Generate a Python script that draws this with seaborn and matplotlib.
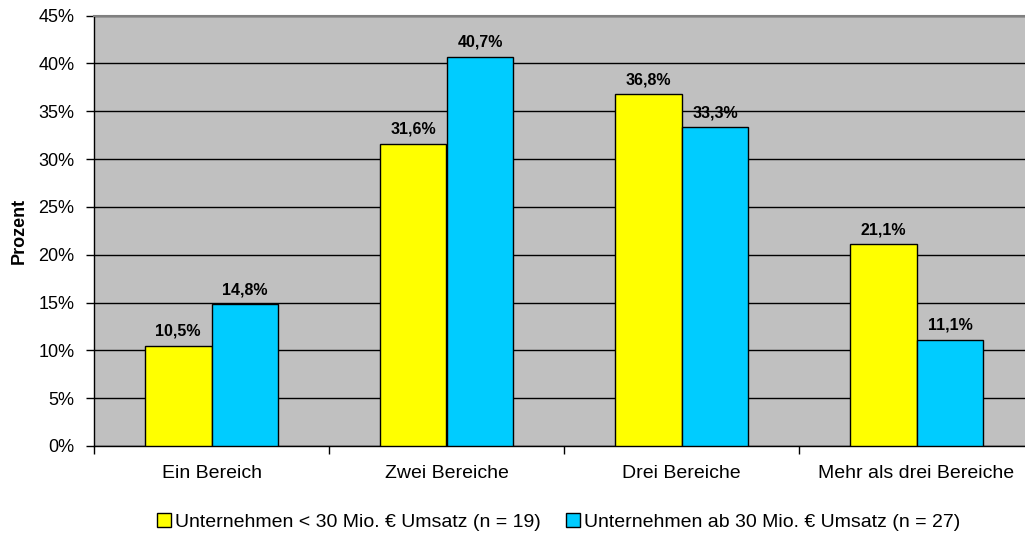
import matplotlib
matplotlib.use("Agg")
import matplotlib.pyplot as plt
import seaborn as sns
import pandas as pd
from matplotlib.ticker import MultipleLocator, FuncFormatter, FixedLocator
from matplotlib.patches import Patch

categories = ["Ein Bereich", "Zwei Bereiche", "Drei Bereiche", "Mehr als drei Bereiche"]
series_names = ["Unternehmen < 30 Mio. € Umsatz (n = 19)",
                "Unternehmen ab 30 Mio. € Umsatz (n = 27)"]
small_firms = [10.5, 31.6, 36.8, 21.1]
large_firms = [14.8, 40.7, 33.3, 11.1]
colors = ["#FFFF00", "#00CCFF"]

rows = []
for name, vals in zip(series_names, [small_firms, large_firms]):
    for cat, v in zip(categories, vals):
        rows.append({"Bereich": cat, "Gruppe": name, "Prozent": v})
df = pd.DataFrame(rows)

sns.set_theme(style="white")
plt.rcParams["font.family"] = ["Liberation Sans", "DejaVu Sans"]
plt.rcParams.update({"text.color": "black", "axes.labelcolor": "black",
                     "xtick.color": "black", "ytick.color": "black"})

fig = plt.figure(figsize=(10.25, 5.36), dpi=100)
ax = fig.add_axes([94 / 1025, (536 - 446) / 536, 940 / 1025, 430.5 / 536])
ax.set_facecolor("#C0C0C0")

sns.barplot(data=df, x="Bereich", y="Prozent", hue="Gruppe", order=categories,
            hue_order=series_names, palette=colors, width=0.57, ax=ax,
            edgecolor="black", linewidth=1, saturation=1, legend=False, zorder=3)

ax.set_xlim(-0.5, 3.5)
ax.set_ylim(0, 45)
ax.yaxis.set_major_locator(MultipleLocator(5))
ax.yaxis.set_major_formatter(FuncFormatter(lambda v, p: f"{v:.0f}%"))
ax.grid(axis="y", color="black", linewidth=1, zorder=0)
ax.set_axisbelow(True)

for cont, vals in zip(ax.containers, [small_firms, large_firms]):
    labels = [f"{v:.1f}".replace(".", ",") + "%" for v in vals]
    ax.bar_label(cont, labels=labels, padding=5, fontsize=11.5, fontweight="bold",
                 color="black")

ax.set_xlabel("")
ax.set_ylabel("Prozent", fontsize=13, fontweight="bold", labelpad=8, color="black")
ax.tick_params(axis="x", which="major", length=0, labelsize=14, pad=14,
               labelcolor="black")
ax.tick_params(axis="y", which="major", length=6, width=1, direction="out",
               left=True, labelsize=13, pad=8, color="black", labelcolor="black")
ax.xaxis.set_minor_locator(FixedLocator([-0.5, 0.5, 1.5, 2.5, 3.5]))
ax.tick_params(axis="x", which="minor", length=6, width=1, direction="out",
               bottom=True, color="black")

for side in ["left", "bottom"]:
    ax.spines[side].set_color("black")
    ax.spines[side].set_linewidth(1)
ax.spines["top"].set_color("#808080")
ax.spines["top"].set_linewidth(1.5)
ax.spines["right"].set_visible(False)

handles = [Patch(facecolor=c, edgecolor="black", linewidth=1) for c in colors]
fig.legend(handles, series_names, loc="center", bbox_to_anchor=(0.545, 0.026),
           ncol=2, frameon=False, fontsize=14, handlelength=0.7, handleheight=0.7,
           handletextpad=0.2, columnspacing=1.3, borderpad=0, labelcolor="black")

fig.savefig("out.png", dpi=100)
